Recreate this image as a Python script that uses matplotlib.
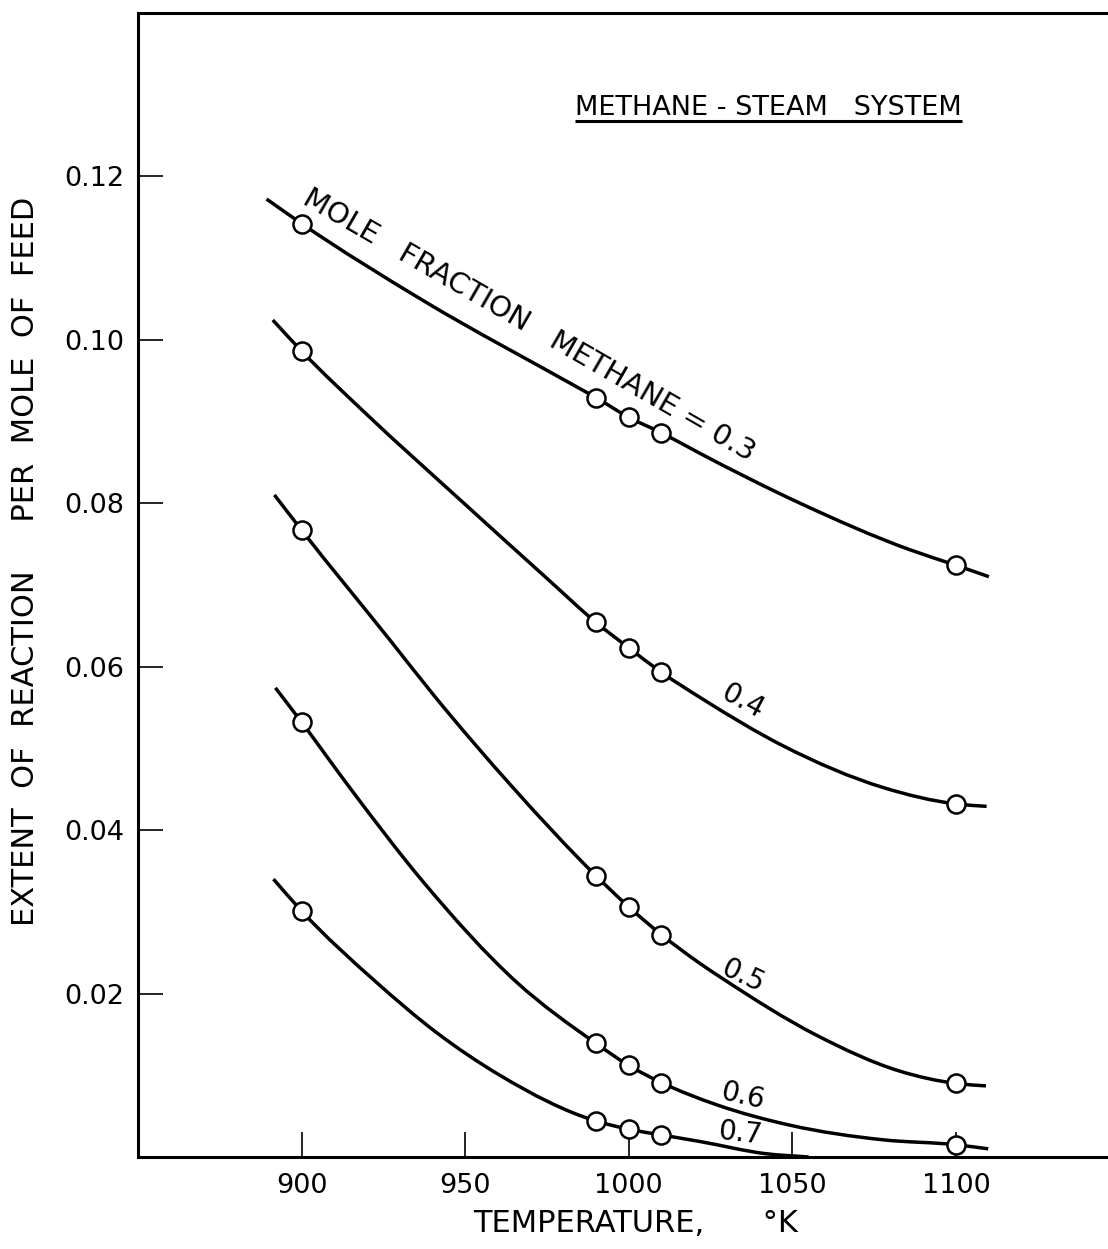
import matplotlib
matplotlib.use("Agg")
import matplotlib.pyplot as plt
from matplotlib.path import Path
from matplotlib.patches import PathPatch

plt.rcParams['font.family'] = ['DejaVu Sans']

# ---- data ----
x_ticks = [900, 950, 1000, 1050, 1100]
x_tick_labels = ["900", "950", "1000", "1050", "1100"]
y_ticks = [0.02, 0.04, 0.06, 0.08, 0.10, 0.12]
y_tick_labels = ["0.02", "0.04", "0.06", "0.08", "0.10", "0.12"]

series_names = ["0.3", "0.4", "0.5", "0.6", "0.7"]

marker_T = [900, 990, 1000, 1010, 1100]
marker_T_07 = [900, 990, 1000, 1010]
marker_v_03 = [0.1142, 0.0929, 0.0905, 0.0886, 0.0724]
marker_v_04 = [0.0986, 0.0654, 0.0623, 0.0593, 0.0432]
marker_v_05 = [0.0767, 0.0344, 0.0306, 0.0272, 0.0090]
marker_v_06 = [0.0532, 0.0139, 0.0112, 0.0091, 0.0015]
marker_v_07 = [0.0301, 0.0044, 0.0034, 0.0027]

curve_T_03 = [889.3, 900, 937.1, 986, 990, 1000, 1010, 1021.7, 1052.3, 1085.9, 1100, 1110.1]
curve_v_03 = [0.1172, 0.1142, 0.1048, 0.0938, 0.0929, 0.0905, 0.0886, 0.0861, 0.0800, 0.0743, 0.0724, 0.0710]
curve_T_04 = [891.2, 900, 919.8, 949.3, 975.8, 990, 1000, 1010, 1022.7, 1047.2, 1077.8, 1100, 1109.4]
curve_v_04 = [0.1024, 0.0986, 0.0909, 0.0801, 0.0705, 0.0654, 0.0623, 0.0593, 0.0560, 0.0503, 0.0452, 0.0432, 0.0429]
curve_T_05 = [891.7, 900, 927.5, 940.2, 964.6, 990, 1000, 1010, 1021.7, 1028.8, 1057.4, 1082.9, 1100, 1109.2]
curve_v_05 = [0.0810, 0.0767, 0.0630, 0.0566, 0.0452, 0.0344, 0.0306, 0.0272, 0.0237, 0.0218, 0.0149, 0.0105, 0.0090, 0.0087]
curve_T_06 = [892, 900, 914.7, 937.1, 965.7, 990, 1000, 1010, 1026.8, 1049.2, 1077.8, 1100, 1109.9]
curve_v_06 = [0.0574, 0.0532, 0.0452, 0.0337, 0.0214, 0.0139, 0.0112, 0.0091, 0.0064, 0.0039, 0.0021, 0.0015, 0.0010]
curve_T_07 = [891.4, 900, 922.8, 941, 960.6, 990, 1000, 1010, 1021.7, 1042, 1055]
curve_v_07 = [0.0340, 0.0301, 0.0214, 0.0153, 0.0100, 0.0044, 0.0034, 0.0027, 0.0019, 0.0004, 0.0]

curves_T = [curve_T_03, curve_T_04, curve_T_05, curve_T_06, curve_T_07]
curves_v = [curve_v_03, curve_v_04, curve_v_05, curve_v_06, curve_v_07]
markers_T = [marker_T, marker_T, marker_T, marker_T, marker_T_07]
markers_v = [marker_v_03, marker_v_04, marker_v_05, marker_v_06, marker_v_07]


def smooth_path(xs, ys):
    """Hand-drawn style curve through the read points (cubic Bezier segments)."""
    n = len(xs)
    h = [xs[i + 1] - xs[i] for i in range(n - 1)]
    d = [(ys[i + 1] - ys[i]) / h[i] for i in range(n - 1)]
    m = [d[0]]
    for i in range(1, n - 1):
        m.append((d[i - 1] * h[i] + d[i] * h[i - 1]) / (h[i - 1] + h[i]))
    m.append(d[-1])
    verts = [(xs[0], ys[0])]
    codes = [Path.MOVETO]
    for i in range(n - 1):
        verts += [(xs[i] + h[i] / 3, ys[i] + m[i] * h[i] / 3),
                  (xs[i + 1] - h[i] / 3, ys[i + 1] - m[i + 1] * h[i] / 3),
                  (xs[i + 1], ys[i + 1])]
        codes += [Path.CURVE4] * 3
    return Path(verts, codes)


# ---- figure ----
W, H = 1108, 1249
fig = plt.figure(figsize=(W / 100, H / 100), dpi=100)
ax_left, ax_bottom_px, ax_top_px = 138, 1157, 12.7
ax = fig.add_axes([ax_left / W, (H - ax_bottom_px) / H, 1 - ax_left / W,
                   (ax_bottom_px - ax_top_px) / H])

ax.set_xlim(850, 1146.5)
ax.set_ylim(0, 0.14)

for T, v in zip(curves_T, curves_v):
    ax.add_patch(PathPatch(smooth_path(T, v), fill=False, edgecolor='black',
                           lw=2.5, capstyle='butt', zorder=2))
for T, v in zip(markers_T, markers_v):
    ax.plot(T, v, 'o', ms=13, mfc='white', mec='black', mew=1.8, zorder=3)

ax.set_xticks(x_ticks)
ax.set_xticklabels(x_tick_labels)
ax.set_yticks(y_ticks)
ax.set_yticklabels(y_tick_labels)
ax.tick_params(axis='both', direction='in', length=18, width=1.2,
               labelsize=19.5, top=False, right=False)
ax.tick_params(axis='x', pad=11.5)
ax.tick_params(axis='y', pad=10)

for s in ['left', 'bottom', 'top']:
    ax.spines[s].set_linewidth(2.2)
ax.spines['right'].set_visible(False)

ax.set_xlabel("TEMPERATURE,      °K", fontsize=22)
ax.xaxis.set_label_coords((636 - 138) / 970, -(1209 - 1157) / 1144)
ax.set_ylabel("EXTENT  OF  REACTION     PER  MOLE  OF  FEED", fontsize=22)
ax.yaxis.set_label_coords((40 - 138) / 970, (1157 - 562) / 1144)

# title with underline
title = ax.text((962 - 138) / 970, (1157 - 115) / 1144, "METHANE - STEAM   SYSTEM",
                transform=ax.transAxes, ha='right', va='baseline', fontsize=19.5)

# curve labels
lbl_kw = dict(ha='center', va='center', rotation_mode='anchor')
ax.text(969.5, 0.1017, "MOLE   FRACTION   METHANE = " + series_names[0],
        rotation=-30, fontsize=21, **lbl_kw)
ax.text(1034.8, 0.0557, series_names[1], rotation=-28, fontsize=20, **lbl_kw)
ax.text(1034.8, 0.0221, series_names[2], rotation=-25, fontsize=20, **lbl_kw)
ax.text(1034.8, 0.0075, series_names[3], rotation=-13, fontsize=20, **lbl_kw)
ax.text(1033.9, 0.0029, series_names[4], rotation=-6, fontsize=20, **lbl_kw)

fig.canvas.draw()
bb = title.get_window_extent().transformed(ax.transAxes.inverted())
uy = (1157 - 121) / 1144
ax.plot([bb.x0, bb.x1], [uy, uy], transform=ax.transAxes, color='black', lw=2.2,
        solid_capstyle='butt', clip_on=False)

fig.savefig("out.png", dpi=100, facecolor='white')
